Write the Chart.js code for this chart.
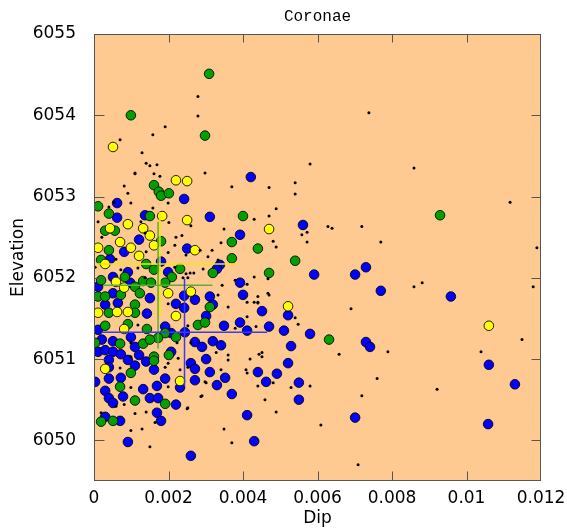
<!DOCTYPE html>
<html>
<head>
<meta charset="utf-8">
<script src="https://cdn.jsdelivr.net/npm/chart.js@4.4.1/dist/chart.umd.min.js"></script>
<style>
  html, body { margin: 0; padding: 0; background: #fff; }
  canvas { display: block; }
</style>
</head>
<body>
<canvas id="chart" width="567" height="529"></canvas>
<script>
// axis ticks
const xTicks = [0, 0.002, 0.004, 0.006, 0.008, 0.01, 0.012];
const yTicks = [6050, 6051, 6052, 6053, 6054, 6055];

// [dip, elevation]
const bluePts = [
  [0.00421,6053.24],[0.00561,6052.65],[0.00591,6052.04],[0.00701,6052.04],[0.00730,6052.13],
  [0.00770,6051.84],[0.00958,6051.77],[0.01060,6050.93],[0.01130,6050.69],[0.01058,6050.20],
  [0.00701,6050.28],[0.00550,6050.50],[0.00550,6050.71],[0.00430,6049.99],[0.00260,6049.81],
  [0.00091,6049.98],[0.00411,6050.31],[0.00370,6050.57],[0.00392,6052.53],[0.00392,6051.94],
  [0.00400,6051.79],[0.00451,6051.59],[0.00521,6051.54],[0.00392,6051.45],[0.00470,6051.40],
  [0.00411,6051.35],[0.00510,6051.35],[0.00580,6051.31],[0.00730,6051.21],[0.00741,6051.15],
  [0.00529,6051.16],[0.00521,6050.95],[0.00440,6050.84],[0.00491,6050.82],[0.00462,6050.72],
  [0.00242,6052.97],[0.00062,6052.92],[0.00062,6052.74],[0.00137,6052.77],[0.00311,6052.75],
  [0.00121,6052.47],[0.00081,6052.32],[0.00250,6052.36],[0.00043,6052.23],[0.00180,6052.20],
  [0.00338,6052.16],[0.00330,6052.11],[0.00091,6052.07],[0.00199,6052.07],[0.00051,6052.01],
  [0.00097,6051.94],[0.00011,6051.89],[0.00051,6051.81],[0.00150,6051.75],[0.00242,6051.78],
  [0.00271,6051.73],[0.00311,6051.77],[0.00220,6051.68],[0.00319,6051.67],[0.00064,6051.69],
  [0.00030,6051.67],[0.00142,6051.56],[0.00242,6051.63],[0.00301,6051.53],[0.00011,6051.36],
  [0.00191,6051.40],[0.00207,6051.32],[0.00244,6051.33],[0.00349,6051.41],[0.00021,6051.24],
  [0.00051,6051.22],[0.00099,6051.27],[0.00110,6051.15],[0.00271,6051.21],[0.00290,6051.15],
  [0.00319,6051.22],[0.00341,6051.17],[0.00011,6051.09],[0.00030,6051.11],[0.00051,6051.09],
  [0.00072,6051.06],[0.00091,6050.99],[0.00121,6051.05],[0.00140,6050.97],[0.00207,6051.09],
  [0.00260,6050.95],[0.00301,6051.00],[0.00040,6050.99],[0.00040,6050.90],[0.00110,6050.92],
  [0.00161,6050.87],[0.00191,6050.76],[0.00271,6050.88],[0.00311,6050.84],[0.00003,6050.72],
  [0.00040,6050.76],[0.00072,6050.77],[0.00231,6050.65],[0.00271,6050.74],[0.00330,6050.68],
  [0.00352,6050.77],[0.00132,6050.63],[0.00169,6050.67],[0.00030,6050.61],[0.00040,6050.52],
  [0.00051,6050.46],[0.00078,6050.54],[0.00150,6050.52],[0.00172,6050.52],[0.00220,6050.44],
  [0.00169,6050.34],[0.00180,6050.24],[0.00070,6050.24],[0.00030,6050.29]
];

const greenPts = [
  [0.00309,6054.51],[0.00099,6054.00],[0.00298,6053.75],[0.00929,6052.77],[0.00161,6053.14],
  [0.00174,6053.06],[0.00180,6053.01],[0.00201,6053.04],[0.00011,6052.88],[0.00040,6052.79],
  [0.00150,6052.76],[0.00400,6052.76],[0.00030,6052.58],[0.00056,6052.58],[0.00180,6052.45],
  [0.00370,6052.44],[0.00440,6052.36],[0.00540,6052.21],[0.00470,6052.06],[0.00040,6052.34],
  [0.00370,6052.24],[0.00019,6052.22],[0.00140,6052.17],[0.00161,6052.10],[0.00231,6052.11],
  [0.00319,6052.06],[0.00209,6052.01],[0.00019,6051.97],[0.00083,6052.01],[0.00132,6051.96],
  [0.00153,6051.94],[0.00191,6051.94],[0.00011,6051.77],[0.00110,6051.89],[0.00072,6051.79],
  [0.00123,6051.81],[0.00030,6051.77],[0.00110,6051.67],[0.00040,6051.57],[0.00110,6051.57],
  [0.00311,6051.64],[0.00030,6051.41],[0.00091,6051.43],[0.00142,6051.37],[0.00220,6051.27],
  [0.00191,6051.32],[0.00172,6051.26],[0.00279,6051.42],[0.00298,6051.45],[0.00003,6051.20],
  [0.00070,6051.19],[0.00132,6051.19],[0.00150,6051.24],[0.00631,6051.24],[0.00161,6051.03],
  [0.00161,6050.98],[0.00201,6051.05],[0.00099,6050.83],[0.00070,6050.66],[0.00110,6050.49],
  [0.00191,6050.45],[0.00019,6050.23],[0.00051,6050.24]
];

const yellowPts = [
  [0.00051,6053.61],[0.01060,6051.41],[0.00220,6053.20],[0.00250,6053.19],[0.00183,6052.76],
  [0.00250,6052.71],[0.00091,6052.66],[0.00043,6052.61],[0.00132,6052.61],[0.00150,6052.52],
  [0.00070,6052.44],[0.00161,6052.40],[0.00470,6052.60],[0.00011,6052.37],[0.00099,6052.37],
  [0.00121,6052.27],[0.00271,6052.34],[0.00030,6052.17],[0.00059,6051.95],[0.00081,6051.88],
  [0.00199,6051.81],[0.00260,6051.83],[0.00521,6051.65],[0.00011,6051.57],[0.00062,6051.58],
  [0.00091,6051.58],[0.00220,6051.53],[0.00081,6051.37],[0.00030,6050.88],[0.00231,6050.73]
];

const dotPts = [
  [0.00279,6054.23],[0.00279,6053.99],[0.00191,6053.86],[0.00158,6053.76],[0.00070,6053.70],
  [0.00129,6053.54],[0.00140,6053.41],[0.00150,6053.38],[0.00169,6053.39],[0.00110,6053.29],
  [0.00738,6054.03],[0.00580,6053.40],[0.00859,6053.35],[0.00540,6053.17],[0.00470,6053.11],
  [0.00540,6053.03],[0.00489,6052.85],[0.00470,6052.76],[0.00430,6052.72],[0.00628,6052.63],
  [0.00639,6052.61],[0.00719,6052.63],[0.01117,6052.93],[0.01189,6052.37],[0.00770,6052.44],
  [0.00558,6052.53],[0.00572,6052.56],[0.00572,6052.44],[0.00481,6052.45],[0.00489,6052.38],
  [0.00859,6051.89],[0.00881,6051.94],[0.01179,6051.89],[0.00411,6051.92],[0.01149,6051.24],
  [0.01039,6051.09],[0.00921,6050.63],[0.00580,6050.67],[0.00529,6050.65],[0.00719,6050.55],
  [0.00609,6050.19],[0.00709,6049.70],[0.00470,6051.79],[0.00440,6051.70],[0.00540,6051.51],
  [0.00548,6051.43],[0.00690,6051.62],[0.00411,6051.52],[0.00443,6051.06],[0.00451,6051.08],
  [0.00451,6051.03],[0.00419,6051.00],[0.00658,6051.06],[0.00789,6051.09],[0.00411,6050.83],
  [0.00481,6050.71],[0.00760,6050.76],[0.00489,6050.35],[0.00290,6050.55],[0.00250,6050.39],
  [0.00081,6050.44],[0.00110,6050.33],[0.00099,6050.12],[0.00129,6050.14],[0.00349,6050.14],
  [0.00370,6049.97],[0.00150,6049.92],[0.00019,6050.34],[0.00301,6050.71],[0.00110,6053.28],
  [0.00161,6053.28],[0.00177,6053.25],[0.00298,6053.29],[0.00081,6053.13],[0.00091,6053.04],
  [0.00370,6053.12],[0.00054,6052.93],[0.00099,6052.92],[0.00158,6052.86],[0.00199,6052.92],
  [0.00040,6052.87],[0.00011,6052.69],[0.00126,6052.69],[0.00201,6052.68],[0.00260,6052.64],
  [0.00349,6052.60],[0.00021,6052.50],[0.00137,6052.55],[0.00220,6052.50],[0.00236,6052.52],
  [0.00341,6052.43],[0.00317,6052.34],[0.00285,6052.34],[0.00217,6052.40],[0.00059,6052.23],
  [0.00199,6052.31],[0.00140,6052.32],[0.00247,6052.28],[0.00333,6052.22],[0.00306,6052.26],
  [0.00293,6052.11],[0.00258,6052.06],[0.00268,6052.06],[0.00247,6052.05],[0.00430,6052.01],
  [0.00467,6051.99],[0.00217,6052.13],[0.00118,6052.12],[0.00072,6052.10],[0.00003,6052.13],
  [0.00379,6051.97],[0.00344,6051.91],[0.00252,6052.00],[0.00239,6052.00],[0.00137,6052.00],
  [0.00333,6051.79],[0.00411,6051.70],[0.00440,6051.77],[0.00430,6051.70],[0.00467,6051.81],
  [0.00199,6051.68],[0.00360,6051.64],[0.00440,6051.69],[0.00118,6051.42],[0.00252,6051.41],
  [0.00379,6051.38],[0.00435,6051.40],[0.00260,6051.20],[0.00099,6051.20],[0.00223,6051.20],
  [0.00328,6051.08],[0.00360,6051.05],[0.00360,6050.99],[0.00226,6051.01],[0.00199,6050.95],
  [0.00231,6050.87],[0.00252,6050.90],[0.00191,6050.90],[0.00070,6050.89],[0.00099,6051.03],
  [0.00341,6050.87],[0.00408,6050.87],[0.00298,6050.72],[0.00099,6050.65],[0.00199,6050.66],
  [0.00287,6050.54],[0.00440,6050.67],[0.00459,6050.50],[0.00059,6050.42],[0.00252,6050.40],
  [0.00140,6050.35],[0.00164,6050.22]
];

// mean +/- spread crosses, one per group: blue, green, yellow
const crossColors = ['#3b3bea', '#5cae3a', '#f2ea00'];
const crossX  = [0.00243, 0.00172, 0.00177];
const crossY  = [6051.33, 6051.91, 6052.17];
const crossDX = [0.00222, 0.00146, 0.00207];
const crossDY = [0.66, 0.78, 0.64];

const PEACH = '#ffc992';
const FONT = "'DejaVu Sans', sans-serif";

const toXY = a => a.map(p => ({x: p[0], y: p[1]}));

function circles(pts, color, order){
  return {
    data: toXY(pts), order,
    pointRadius: 4.8, pointHoverRadius: 4.8,
    backgroundColor: color, borderColor: 'rgba(0,0,0,0.85)', borderWidth: 1
  };
}

const datasets = [
  {
    data: toXY(dotPts), order: 1,
    pointRadius: 1.5, pointHoverRadius: 1.5,
    backgroundColor: '#000', borderWidth: 0
  },
  circles(yellowPts, '#ffff00', 2),
  circles(greenPts, '#00a000', 3),
  circles(bluePts, '#0000ff', 4)
];

crossX.forEach((cx, i) => {
  const cy = crossY[i], dx = crossDX[i], dy = crossDY[i];
  const line = { showLine: true, pointRadius: 0, borderColor: crossColors[i], borderWidth: 1.5, order: 0 };
  datasets.push(Object.assign({ data: [{x: cx - dx, y: cy}, {x: cx + dx, y: cy}] }, line));
  datasets.push(Object.assign({ data: [{x: cx, y: cy - dy}, {x: cx, y: cy + dy}] }, line));
});

// peach plot area, frame and inward tick marks
const frame = {
  id: 'frame',
  beforeDatasetsDraw(c){
    const a = c.chartArea, g = c.ctx;
    g.save();
    g.fillStyle = PEACH;
    g.fillRect(a.left, a.top, a.right - a.left, a.bottom - a.top);
    g.restore();
  },
  afterDraw(c){
    const a = c.chartArea, g = c.ctx;
    const L = Math.round(a.left) + 0.5, R = Math.round(a.right) - 0.5;
    const T = Math.round(a.top) + 0.5, B = Math.round(a.bottom) - 0.5;
    g.save();
    g.strokeStyle = '#555';
    g.lineWidth = 1;
    g.strokeRect(L, T, R - L, B - T);
    g.beginPath();
    xTicks.forEach(v => {
      const px = Math.round(c.scales.x.getPixelForValue(v)) + 0.5;
      if (px <= L + 1 || px >= R - 1) return;
      g.moveTo(px, B); g.lineTo(px, B - 9);
      g.moveTo(px, T); g.lineTo(px, T + 8);
    });
    yTicks.forEach(v => {
      const py = Math.round(c.scales.y.getPixelForValue(v)) + 0.5;
      if (py <= T + 1 || py >= B - 1) return;
      g.moveTo(L, py); g.lineTo(L + 10, py);
      g.moveTo(R, py); g.lineTo(R - 9, py);
    });
    g.stroke();
    g.restore();
  }
};

new Chart(document.getElementById('chart'), {
  type: 'scatter',
  data: { datasets },
  options: {
    responsive: false,
    animation: false,
    devicePixelRatio: 1,
    layout: { padding: { left: 0, right: 26, top: 0, bottom: 0 } },
    plugins: {
      legend: { display: false },
      tooltip: { enabled: false },
      title: {
        display: true, text: 'Coronae', fullSize: false, color: '#000',
        font: { family: "'Liberation Mono', monospace", size: 16, weight: 'normal' },
        padding: { top: 7, bottom: 7.8 }
      }
    },
    scales: {
      x: {
        type: 'linear', min: 0, max: 0.012,
        afterFit: s => { s.height = 48; },
        afterBuildTicks: s => { s.ticks = xTicks.map(v => ({ value: v })); },
        grid: { display: false }, border: { display: false },
        ticks: {
          padding: -1, color: '#000', autoSkip: false, maxRotation: 0,
          font: { family: FONT, size: 17 },
          callback: v => String(+v.toFixed(3))
        },
        title: { display: true, text: 'Dip', color: '#000', font: { family: FONT, size: 17 }, padding: { top: 0, bottom: 0 } }
      },
      y: {
        type: 'linear', min: 6049.5, max: 6055,
        afterFit: s => { s.width = 94; },
        afterBuildTicks: s => { s.ticks = yTicks.map(v => ({ value: v })); },
        grid: { display: false }, border: { display: false },
        ticks: {
          padding: 10, color: '#000', autoSkip: false,
          font: { family: FONT, size: 17 },
          callback: v => String(v)
        },
        title: { display: true, text: 'Elevation', color: '#000', font: { family: FONT, size: 17 }, padding: { top: 8, bottom: 0 } }
      }
    }
  },
  plugins: [frame]
});
</script>
</body>
</html>
